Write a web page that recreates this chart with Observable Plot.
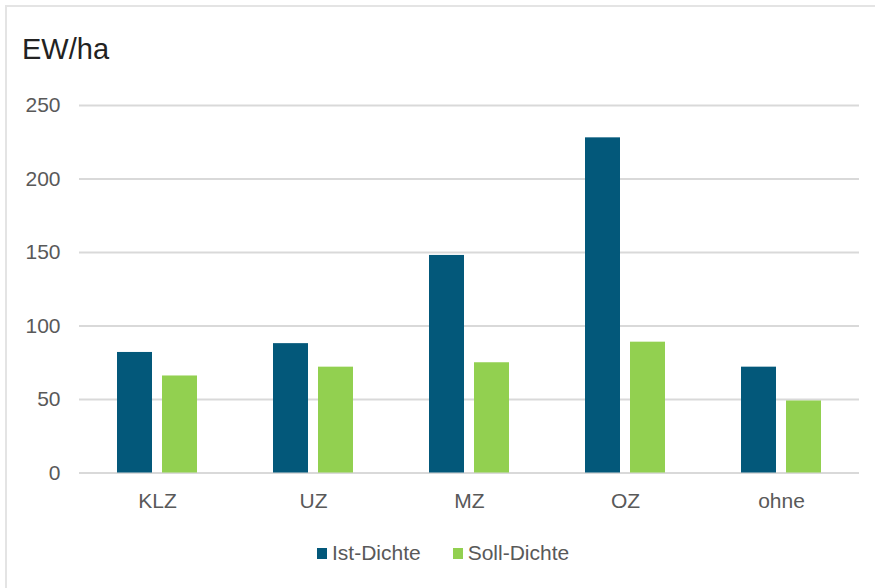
<!DOCTYPE html>
<html>
<head>
<meta charset="utf-8">
<script src="https://cdn.jsdelivr.net/npm/d3@7"></script>
<script src="https://cdn.jsdelivr.net/npm/@observablehq/plot@0.6"></script>
<style>
  html, body { margin: 0; overflow: hidden; background: #fff; font-family: "Liberation Sans", Arial, sans-serif; }
  #frame { position: absolute; left: 5px; top: 5px; width: 868px; height: 581px;
           border-top: 2px solid #e4e4e4; border-left: 2px solid #e4e4e4; pointer-events: none; }
  #title { position: relative; height: 75px; }
  #title span { position: absolute; left: 22px; top: 35px; font-size: 29px; line-height: 29px; color: #222; }
  #chart { height: 450px; }
  #legend { position: relative; height: 63px; }
  #legend .items { position: absolute; left: 317px; top: 17px; display: flex; align-items: center;
                   font-size: 21px; line-height: 22px; color: #595959; }
  #legend .item { display: flex; align-items: center; margin-right: 32px; }
  #legend .sw { width: 10px; height: 11px; margin-right: 5px; }
</style>
</head>
<body>
<div id="frame"></div>
<div id="title"><span>EW/ha</span></div>
<div id="chart"></div>
<div id="legend"><div class="items"></div></div>
<script>
// Einwohnerdichte je Zentrentyp
const categories = ["KLZ", "UZ", "MZ", "OZ", "ohne"];
const series = ["Ist-Dichte", "Soll-Dichte"];
const istValues = [82, 88, 148, 228, 72];
const sollValues = [66, 72, 75, 89, 49];
const yTicks = [0, 50, 100, 150, 200, 250];
const colors = ["#03587a", "#92d050"];

const rows = categories.flatMap((category, i) => [
  {category, series: series[0], value: istValues[i]},
  {category, series: series[1], value: sollValues[i]}
]);

const chart = Plot.plot({
  width: 875,
  height: 450,
  marginLeft: 78,
  marginRight: 15,
  marginTop: 30,
  marginBottom: 52.5,
  style: {fontSize: "21px", fontFamily: "'Liberation Sans', Arial, sans-serif", color: "#595959", background: "transparent"},
  fx: {domain: categories, padding: 0, label: null, axis: "bottom", tickSize: 0, tickPadding: 20},
  x: {domain: series, axis: null, paddingInner: 0.222, paddingOuter: 0.844},
  y: {domain: [0, 250], ticks: yTicks, label: null, tickSize: 0, tickPadding: 19},
  color: {domain: series, range: colors},
  marks: [
    Plot.ruleY(yTicks, {stroke: "#d9d9d9", strokeOpacity: 1, strokeWidth: 2}),
    Plot.barY(rows, {fx: "category", x: "series", y: "value", fill: "series"})
  ]
});
document.getElementById("chart").appendChild(chart);

const legend = d3.select("#legend .items");
series.forEach((name, i) => {
  const item = legend.append("div").attr("class", "item");
  item.append("div").attr("class", "sw").style("background", colors[i]);
  item.append("span").text(name);
});
</script>
</body>
</html>
